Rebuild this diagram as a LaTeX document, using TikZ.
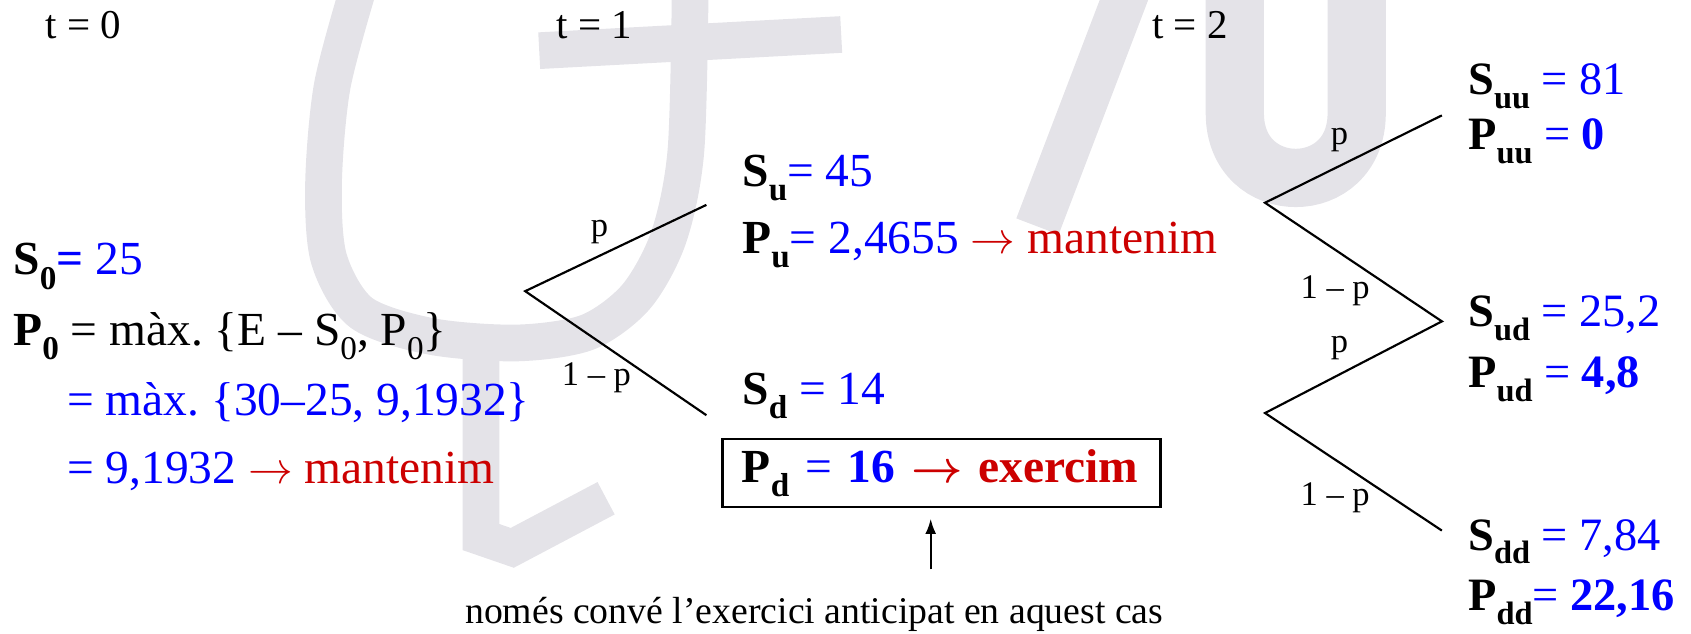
\documentclass[tikz,border=0pt]{standalone}
\usepackage{fontspec}
\usepackage{graphicx}
\setmainfont{Liberation Serif}
\usetikzlibrary{arrows.meta}
\definecolor{valblue}{RGB}{0,0,255}
\definecolor{decred}{RGB}{204,0,0}
\definecolor{wmgray}{RGB}{228,227,232}
\newcommand\lo[1]{\raisebox{-.3em}{\scalebox{.7}{#1}}}
\newcommand\valb[1]{\textcolor{valblue}{#1}}
\newcommand\decr[1]{\textcolor{decred}{#1}}
\newcommand\goes{$\rightarrow$}
\newcommand\goesbf{{\boldmath$\rightarrow$}}
\frenchspacing
\begin{document}
\begin{tikzpicture}[x=0.5pt,y=-0.5pt,>={Latex[length=7pt,width=5pt]},
wm/.style={draw=wmgray,line width=17pt},
branch/.style={line width=1pt},
prob/.style={inner sep=0pt,font=\fontsize{16}{18}\selectfont},
lbl/.style={anchor=base west,inner sep=0pt,font=\fontsize{22}{26}\selectfont},
leaf/.style={lbl,font=\fontsize{21.5}{25}\selectfont},
tlbl/.style={anchor=base west,inner sep=0pt,font=\fontsize{19}{22}\selectfont},
pointer/.style={->,line width=1pt}]
\useasboundingbox (0,0) rectangle (1568,587);
\draw[wm] plot[smooth] coordinates {(332,-10) (308,80) (300,170) (305,240) (335,290) (400,312) (480,318) (545,308) (590,275) (620,220) (636,140) (640,-10)};
\draw[wm] (446,318) -- (446,498) -- (475,508) -- (562,462);
\draw[wm] (500,47) -- (780,32);
\draw[wm,line width=21pt] (1046,-10) -- (962,210);
\draw[wm,line width=27pt] (1145,-10) -- (1145,105) .. controls (1145,185) and (1258,185) .. (1258,105) -- (1258,-10);
\node[tlbl] (t0) at (42,36) {t = 0};
\node[tlbl] (t1) at (516,36) {t = 1};
\node[tlbl] (t2) at (1068,36) {t = 2};
\node[lbl] (s0) at (12,255) {\textbf{S\lo{0}}\valb{\textbf{=} 25}};
\node[lbl] (p0) at (12,320) {\textbf{P\lo{0}} = màx. \{E – S\lo{0}, P\lo{0}\}};
\node[lbl,text=valblue] (p0a) at (62,385) {= màx. \{30–25, 9,1932\}};
\node[lbl] (p0b) at (62,448) {\valb{= 9,1932} \decr{\goes{} mantenim}};
\coordinate (a0) at (487,270);
\coordinate (au) at (655,190);
\coordinate (ad) at (655,385);
\draw[branch] (au) -- (a0) -- (ad);
\node[prob] (pa) at (556,215) {p};
\node[prob] (qa) at (553,350) {1 – p};
\node[lbl] (su) at (688,173) {\textbf{S\lo{u}}\valb{= 45}};
\node[lbl] (pu) at (688,235) {\textbf{P\lo{u}}\valb{= 2,4655} \decr{\goes{} mantenim}};
\node[lbl] (sd) at (688,375) {\textbf{S\lo{d}} \valb{= 14}};
\node[lbl,draw,line width=1pt,anchor=west,inner xsep=9pt,text width=185pt,minimum height=31.5pt] (pd) at (669,438.5) {\textbf{P\lo{d}} \valb{= \textbf{16}} \decr{\textbf{\goesbf{} exercim}}};
\node[lbl,anchor=base,font=\fontsize{17.5}{20}\selectfont] (nt) at (755,578) {només convé l’exercici anticipat en aquest cas};
\coordinate (tail) at ([xshift=-5pt,yshift=-28.5pt]pd.south);
\draw[pointer] (tail) -- ([xshift=-5pt,yshift=-5pt]pd.south);
\coordinate (bu) at (1173,188);
\coordinate (bd) at (1173,383);
\coordinate (cuu) at (1337,107);
\coordinate (cud) at (1337,298);
\coordinate (cdd) at (1337,492);
\draw[branch] (cuu) -- (bu) -- (cud) -- (bd) -- (cdd);
\node[prob] (pb1) at (1242,130) {p};
\node[prob] (qb1) at (1238,270) {1 – p};
\node[prob] (pb2) at (1242,323) {p};
\node[prob] (qb2) at (1238,462) {1 – p};
\node[leaf] (suu) at (1361,88) {\textbf{S\lo{uu}} \valb{= 81}};
\node[leaf] (puu) at (1361,139) {\textbf{P\lo{uu}} \valb{= \textbf{0}}};
\node[leaf] (sud) at (1361,303) {\textbf{S\lo{ud}} \valb{= 25,2}};
\node[leaf] (pud) at (1361,359) {\textbf{P\lo{ud}} \valb{= \textbf{4,8}}};
\node[leaf] (sdd) at (1361,510) {\textbf{S\lo{dd}} \valb{= 7,84}};
\node[leaf] (pdd) at (1361,566) {\textbf{P\lo{dd}}\valb{= \textbf{22,16}}};
\end{tikzpicture}
\end{document}
